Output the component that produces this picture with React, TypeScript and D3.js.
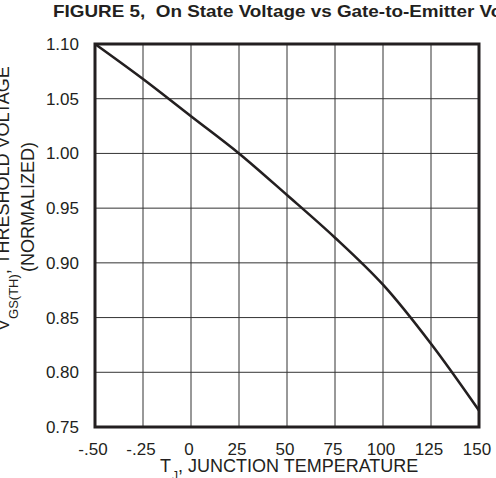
import React from "react";
import * as d3 from "d3";

const temps = [-50, -25, 0, 25, 50, 75, 100, 125, 150];
const vth = [1.1, 1.068, 1.034, 1.0, 0.962, 0.923, 0.88, 0.826, 0.765];
const xTicks = [-50, -25, 0, 25, 50, 75, 100, 125, 150];
const xTickLabels = ["-.50", "-.25", "0", "25", "50", "75", "100", "125", "150"];
const yTicks = [1.1, 1.05, 1.0, 0.95, 0.9, 0.85, 0.8, 0.75];
const yTickLabels = ["1.10", "1.05", "1.00", "0.95", "0.90", "0.85", "0.80", "0.75"];

const W = 496, H = 478;
const L = 95, R = 479, T = 44, B = 427;
const FONT = "'Liberation Sans', Arial, Helvetica, sans-serif";
const INK = "#231f20";

export default function App() {
  const x = d3.scaleLinear().domain([-50, 150]).range([L, R]);
  const y = d3.scaleLinear().domain([0.75, 1.1]).range([B, T]);
  const pts = temps.map((t, i) => [t, vth[i]] as [number, number]);
  const line = d3
    .line<[number, number]>()
    .x((d) => x(d[0]))
    .y((d) => y(d[1]))
    .curve(d3.curveCatmullRom.alpha(0.5));

  return (
    <svg
      width={W}
      height={H}
      style={{ position: "absolute", left: 0, top: 0, background: "#fff" }}
      fontFamily={FONT}
    >
      <rect x={0} y={0} width={W} height={H} fill="#fff" />
      <text
        transform="translate(53,17) scale(1.145,1)"
        fontSize={16.5}
        fontWeight="bold"
        fill={INK}
      >
        FIGURE 5,{"\u00a0\u00a0"}On State Voltage vs Gate-to-Emitter Voltage
      </text>

      {/* grid */}
      {xTicks.slice(1, -1).map((t) => (
        <line key={"gx" + t} x1={x(t)} x2={x(t)} y1={T} y2={B} stroke="#333" strokeWidth={1} />
      ))}
      {yTicks.slice(1, -1).map((v) => (
        <line key={"gy" + v} x1={L} x2={R} y1={y(v)} y2={y(v)} stroke="#333" strokeWidth={1} />
      ))}

      {/* curve */}
      <path d={line(pts) || ""} fill="none" stroke={INK} strokeWidth={2.6} />

      {/* frame */}
      <rect x={L} y={T} width={R - L} height={B - T} fill="none" stroke={INK} strokeWidth={3} />

      {/* y tick labels */}
      {yTicks.map((v, i) => (
        <text key={"yl" + v} x={79} y={y(v) + 6} textAnchor="end" fontSize={17} fill={INK}>
          {yTickLabels[i]}
        </text>
      ))}
      {/* x tick labels */}
      {xTicks.map((t, i) => (
        <text key={"xl" + t} x={x(t) - 2} y={455} textAnchor="middle" fontSize={17} fill={INK}>
          {xTickLabels[i]}
        </text>
      ))}

      {/* x title */}
      <text x={160} y={472} fontSize={18} fill={INK}>
        T
        <tspan dx={1} dy={8} fontSize={12}>J</tspan>
        <tspan dy={-8}>, JUNCTION TEMPERATURE</tspan>
      </text>

      {/* y title */}
      <text transform="translate(8.5,331) rotate(-90)" fontSize={18} fill={INK}>
        V
        <tspan dy={9} fontSize={13}>GS(TH)</tspan>
        <tspan dy={-9}>, THRESHOLD VOLTAGE</tspan>
      </text>
      <text
        transform="translate(33.5,207) rotate(-90)"
        textAnchor="middle"
        fontSize={18}
        fill={INK}
      >
        (NORMALIZED)
      </text>
    </svg>
  );
}
